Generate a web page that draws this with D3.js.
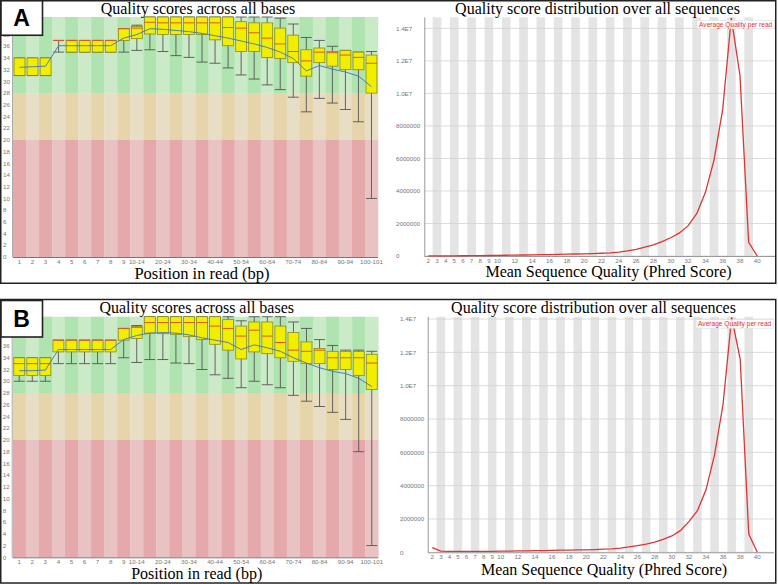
<!DOCTYPE html>
<html><head><meta charset="utf-8">
<script src="https://cdn.jsdelivr.net/npm/d3@7"></script>
<style>body{margin:0;background:#fff}svg{display:block}</style>
</head><body>
<svg id="c" width="778" height="584"></svg>
<script>
// ---------- data ----------
const positions = ["1","2","3","4","5","6","7","8","9","10-14","15-19","20-24","25-29","30-34","35-39","40-44","45-49","50-54","55-59","60-64","65-69","70-74","75-79","80-84","85-89","90-94","95-99","100-101"];
const positionTickLabels = ["1","2","3","4","5","6","7","8","9","10-14","20-24","30-34","40-44","50-54","60-64","70-74","80-84","90-94","100-101"];
const qualityTicks = [0,2,4,6,8,10,12,14,16,18,20,22,24,26,28,30,32,34,36,38,40];

// Panel A – per-base quality (10th pct, Q1, median, Q3, 90th pct, mean)
const aLow    = [31,31,31,35,35,35,35,35,35,35.3,35.4,35.1,34.4,34.1,33.3,33.1,32.3,31.1,30.4,29.4,28.6,27.3,24.8,27.1,26.3,25.2,23.1,10];
const aQ1     = [31,31,31,37,35,35,35,35,37,37.3,38.1,38,38,38,38,37.1,36.1,35.1,35.1,34.1,33.9,33.2,30.9,33.2,32.6,32.0,32.0,28.0];
const aMedian = [31,31,31,37,37,37,37,37,39,39.1,40.1,40,40,40,40,40,39.2,39.1,38.3,37.4,36.4,35.1,33.5,35.0,34.9,34.5,34.1,33.1];
const aQ3     = [34,34,34,37,37,37,37,37,39,39.4,41,41,41,41,41,41,41,40.2,40,40,39.1,37.9,35.4,35.7,35.1,35.3,35.0,34.5];
const aHigh   = [34,34,34,37,37,37,37,37,39,39.6,41,41,41,41,41,41,41,41,41,41,40.8,39.8,37.5,37.0,36.0,35.3,35.0,35.1];
const aMean   = [32.4,32.5,32.6,36.1,36.1,36.1,36.1,36.1,37.4,38.0,39.0,38.9,38.7,38.5,38.2,37.8,37.4,36.9,36.4,35.8,35.0,33.9,31.8,32.7,32.1,31.6,30.9,29.1];

// Panel B – per-base quality
const bLow    = [30,30,30,33,33,33,33,33,34,33.2,33.7,33.7,33.1,33,32,31.1,30.5,28.9,30.0,29.4,28.9,27.6,26.6,25.7,24.7,23.5,18,2];
const bQ1     = [31,31,31,35,35,35,35,35,37,37.3,38.2,38.1,38,37.6,37.1,36.3,35.3,33.8,35.0,34.7,34.0,33.4,33.0,33.0,32.0,32.0,31.0,28.6];
const bMedian = [33,33,33,37,37,37,37,37,39,39.2,40,40,40,40,40,39.4,39.0,37.7,38.7,37.7,36.6,35.3,35.1,35.3,34.0,34.0,34.0,33.1];
const bQ3     = [34,34,34,37,37,37,37,37,39,39.3,41,41,41,41,41,41,40.5,39.4,40.1,40.1,39.4,38.3,36.7,35.6,35.1,35.1,35.1,34.6];
const bHigh   = [34,34,34,37,37,37,37,37,39,39.5,41,41,41,41,41,41,41,40.3,41,41,41,40.1,39.0,37.1,36.1,35.3,35.3,35.1];
const bMean   = [31.8,31.8,31.9,35.4,35.4,35.4,35.4,35.4,37.1,37.8,38.2,38.3,38.2,37.9,37.4,37.0,36.6,35.4,36.2,35.7,35.1,34.0,33.1,32.3,31.7,31.3,30.5,29.1];

// Quality score distribution (mean Phred score vs number of reads)
const phredScores = [2,3,4,5,6,7,8,9,10,11,12,13,14,15,16,17,18,19,20,21,22,23,24,25,26,27,28,29,30,31,32,33,34,35,36,37,38,39,40];
const phredTickLabels = [2,3,4,5,6,7,8,9,10,12,14,16,18,20,22,24,26,28,30,32,34,36,38,40];
const countsA = [10000,10000,10000,12000,14000,18000,22000,30000,38000,46000,55000,62000,70000,80000,90000,100000,110000,122000,135000,150000,170000,195000,235000,310000,410000,540000,690000,890000,1120000,1420000,1850000,2600000,3900000,5900000,9000000,14650000,11100000,840000,0];
const countsB = [280000,70000,55000,52000,52000,54000,56000,60000,66000,72000,80000,88000,95000,105000,115000,125000,135000,142000,150000,165000,185000,210000,255000,320000,400000,490000,610000,780000,980000,1300000,1840000,2500000,3750000,5850000,8900000,14100000,11600000,1100000,0];
const countTicks = [0,2000000,4000000,6000000,8000000,10000000,12000000,14000000];
const countTickLabels = ["0","2000000","4000000","6000000","8000000","1.0E7","1.2E7","1.4E7"];

// ---------- drawing ----------
const svg = d3.select("#c");
const serif = "'Liberation Serif','Times New Roman',serif";
const sans = "'Liberation Sans',Arial,sans-serif";
const tickFs = 6.2;

function qualityPlot(g, o, low, q1, med, q3, high, mean) {
  const x = d3.scaleBand().domain(positions).range([o.x0, o.x1]);
  const y = d3.scaleLinear().domain([0, 41]).range([o.yb, o.yt]);
  const bands = [
    {lo: 28, hi: 41, c: ["#afe3af", "#cbeac8"]},
    {lo: 20, hi: 28, c: ["#e6d5ab", "#e8dec6"]},
    {lo: 0,  hi: 20, c: ["#e5a9ab", "#e9c3c4"]}
  ];
  positions.forEach((p, i) => {
    bands.forEach(b => {
      g.append("rect").attr("x", x(p)).attr("width", x.bandwidth() + 0.3)
        .attr("y", y(b.hi)).attr("height", y(b.lo) - y(b.hi))
        .attr("fill", b.c[i % 2]);
    });
  });
  g.append("line").attr("x1", o.x0).attr("x2", o.x1).attr("y1", o.yb + 0.5).attr("y2", o.yb + 0.5).attr("stroke", "#777");
  g.append("line").attr("x1", o.x0 - 0.5).attr("x2", o.x0 - 0.5).attr("y1", o.yt).attr("y2", o.yb).attr("stroke", "#aaa");
  qualityTicks.forEach(t => {
    g.append("text").attr("x", o.x0 - 10).attr("y", y(t) + 2.2).text(t)
      .attr("font-family", sans).attr("font-size", tickFs).attr("fill", "#777");
  });
  positionTickLabels.forEach(t => {
    g.append("text").attr("x", x(t) + x.bandwidth() / 2).attr("y", o.yb + 6.6).text(t)
      .attr("text-anchor", "middle").attr("font-family", sans).attr("font-size", tickFs).attr("fill", "#777");
  });
  const bw = x.bandwidth() * 0.84;
  positions.forEach((p, i) => {
    const cx = x(p) + x.bandwidth() / 2;
    g.append("line").attr("x1", cx).attr("x2", cx).attr("y1", y(high[i])).attr("y2", y(low[i])).attr("stroke", "#555").attr("stroke-width", 0.9);
    [low[i], high[i]].forEach(v => g.append("line").attr("x1", cx - bw / 2).attr("x2", cx + bw / 2)
      .attr("y1", y(v)).attr("y2", y(v)).attr("stroke", "#555").attr("stroke-width", 0.9));
    if (q3[i] > q1[i]) {
      g.append("rect").attr("x", cx - bw / 2).attr("width", bw).attr("y", y(q3[i])).attr("height", y(q1[i]) - y(q3[i]))
        .attr("fill", "#f2ee00").attr("stroke", "#8a8a20").attr("stroke-width", 0.8);
    }
    g.append("line").attr("x1", cx - bw / 2).attr("x2", cx + bw / 2).attr("y1", y(med[i])).attr("y2", y(med[i]))
      .attr("stroke", "#e2561e").attr("stroke-width", 1);
  });
  g.append("path").datum(mean)
    .attr("d", d3.line().x((d, i) => x(positions[i]) + x.bandwidth() / 2).y(d => y(d)))
    .attr("fill", "none").attr("stroke", "#4f7cb8").attr("stroke-width", 1);
  g.append("text").attr("x", o.tx).attr("y", o.ty).text("Quality scores across all bases")
    .attr("text-anchor", "middle").attr("font-family", serif).attr("font-size", o.tfs);
  g.append("text").attr("x", o.xx).attr("y", o.xy).text("Position in read (bp)")
    .attr("text-anchor", "middle").attr("font-family", serif).attr("font-size", o.xfs);
}

function distPlot(g, o, counts) {
  const x = d3.scaleLinear().domain([2, 40]).range([o.p2, o.p40]);
  const y = d3.scaleLinear().domain([0, o.ymax]).range([o.yb, o.yt]);
  const u = x(3) - x(2);
  phredScores.filter(s => s % 2 === 1).forEach(s => {
    g.append("rect").attr("x", x(s) - u / 2).attr("width", u).attr("y", o.yt).attr("height", o.yb - o.yt).attr("fill", "#e4e4e4");
  });
  countTicks.forEach((t, i) => {
    g.append("line").attr("x1", o.x0).attr("x2", o.x1).attr("y1", y(t)).attr("y2", y(t)).attr("stroke", "#d2d2d2").attr("stroke-width", 0.8);
    g.append("text").attr("x", o.lx).attr("y", y(t) + 2.2).text(countTickLabels[i])
      .attr("font-family", sans).attr("font-size", tickFs).attr("fill", "#777");
  });
  g.append("line").attr("x1", o.x0).attr("x2", o.x1).attr("y1", o.yb + 0.5).attr("y2", o.yb + 0.5).attr("stroke", "#999");
  g.append("line").attr("x1", o.x0 + 0.5).attr("x2", o.x0 + 0.5).attr("y1", o.yt).attr("y2", o.yb).attr("stroke", "#999");
  phredTickLabels.forEach(t => {
    g.append("text").attr("x", x(t)).attr("y", o.yb + 6.6).text(t)
      .attr("text-anchor", "middle").attr("font-family", sans).attr("font-size", tickFs).attr("fill", "#777");
  });
  g.append("path").datum(counts)
    .attr("d", d3.line().x((d, i) => x(phredScores[i])).y(d => y(d)))
    .attr("fill", "none").attr("stroke", "#e03434").attr("stroke-width", 1.3);
  g.append("rect").attr("x", o.x1 - 78).attr("y", o.yt + 3).attr("width", 77.5).attr("height", 8.5)
    .attr("fill", "#fff").attr("fill-opacity", 0.85).attr("stroke", "#ddd").attr("stroke-width", 0.6);
  g.append("text").attr("x", o.x1 - 39.3).attr("y", o.yt + 9.6).text("Average Quality per read")
    .attr("text-anchor", "middle").attr("font-family", sans).attr("font-size", 6.6).attr("fill", "#e03434");
  g.append("text").attr("x", o.tx).attr("y", o.ty).text("Quality score distribution over all sequences")
    .attr("text-anchor", "middle").attr("font-family", serif).attr("font-size", o.tfs);
  g.append("text").attr("x", o.xx).attr("y", o.xy).text("Mean Sequence Quality (Phred Score)")
    .attr("text-anchor", "middle").attr("font-family", serif).attr("font-size", o.xfs);
}

function panel(py, ph) {
  const g = svg.append("g");
  g.append("rect").attr("x", 0.75).attr("y", py).attr("width", 775).attr("height", ph)
    .attr("fill", "#fff").attr("stroke", "#222").attr("stroke-width", 1.5);
  return g;
}
function labelBox(g, label, py, h) {
  g.append("rect").attr("x", 1).attr("y", py).attr("width", 41.5).attr("height", h)
    .attr("fill", "#fff").attr("stroke", "#222").attr("stroke-width", 1.6);
  g.append("text").attr("x", 21.5).attr("y", py + h / 2 + 8).text(label)
    .attr("text-anchor", "middle").attr("font-family", "'Liberation Sans',Arial,sans-serif")
    .attr("font-weight", "bold").attr("font-size", 23);
}

const gA = panel(0.75, 282.5);
qualityPlot(gA, {x0: 13, x1: 378, yt: 17, yb: 257, tx: 198, ty: 14, tfs: 16, xx: 202, xy: 278.5, xfs: 16.5},
  aLow, aQ1, aMedian, aQ3, aHigh, aMean);
distPlot(gA, {x0: 424.3, x1: 775, p2: 428.3, p40: 757.3, yt: 17.3, yb: 256, ymax: 14680000, lx: 396,
  tx: 597.5, ty: 13.5, tfs: 16, xx: 608.5, xy: 277, xfs: 16}, countsA);
labelBox(gA, "A", 0.75, 34.5);

const gB = panel(299.5, 283.5);
qualityPlot(gB, {x0: 12.7, x1: 378.3, yt: 316.7, yb: 557.3, tx: 196.7, ty: 312.5, tfs: 16, xx: 196.7, xy: 578.5, xfs: 16},
  bLow, bQ1, bMedian, bQ3, bHigh, bMean);
distPlot(gB, {x0: 427.7, x1: 774, p2: 432.3, p40: 757.3, yt: 316.7, yb: 552.3, ymax: 14140000, lx: 400,
  tx: 593.5, ty: 312.5, tfs: 16, xx: 604, xy: 574.5, xfs: 16}, countsB);
labelBox(gB, "B", 300.5, 36.5);
</script>
</body></html>
